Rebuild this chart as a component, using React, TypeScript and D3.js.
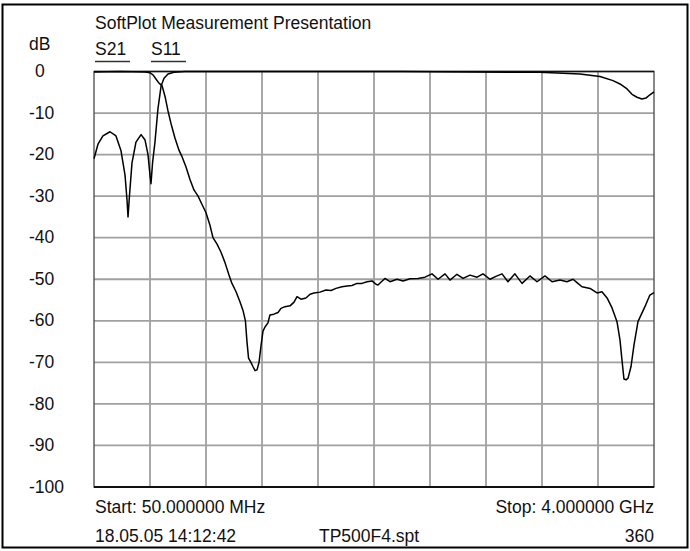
import React from 'react';
import * as d3 from 'd3';

// frequency axis (MHz) and level axis (dB)
const X_GRID = [50, 445, 840, 1235, 1630, 2025, 2420, 2815, 3210, 3605, 4000];
const Y_TICKS = [0, -10, -20, -30, -40, -50, -60, -70, -80, -90, -100];

// S11 trace (reflection)
const S11_FREQ = [50, 78, 113, 163, 205, 240, 269, 283, 290, 300, 318, 346, 382, 410, 431, 445, 452, 463, 480, 501, 523, 544, 572, 614, 692, 2208, 3196, 3478, 3619, 3711, 3760, 3810, 3845, 3880, 3915, 3943, 3971, 4000];
const S11_DB = [-21, -17.5, -15.5, -14.5, -15.5, -19, -25, -31, -35, -30, -22, -17, -15.2, -16.5, -20, -25, -27, -22, -17, -9, -3.5, -1.6, -0.6, -0.2, 0, 0, -0.2, -0.6, -1.2, -2.2, -3, -4.2, -5.5, -6.2, -6.6, -6.4, -5.6, -4.9];

// S21 trace (transmission)
const S21_FREQ = [50, 233, 410, 445, 466, 487, 508, 530, 551, 572, 593, 621, 650, 671, 699, 727, 755, 784, 812, 840, 868, 889, 917, 946, 974, 1002, 1023, 1052, 1080, 1101, 1118, 1129, 1140, 1157, 1171, 1186, 1200, 1214, 1228, 1242, 1256, 1277, 1291, 1319, 1348, 1369, 1397, 1433, 1461, 1482, 1510, 1545, 1574, 1602, 1644, 1686, 1722, 1757, 1799, 1835, 1870, 1905, 1940, 1976, 2011, 2039, 2053, 2102, 2138, 2187, 2230, 2279, 2336, 2385, 2434, 2477, 2526, 2561, 2610, 2653, 2702, 2752, 2794, 2843, 2885, 2928, 2970, 3019, 3069, 3125, 3175, 3231, 3281, 3337, 3386, 3429, 3457, 3492, 3549, 3598, 3633, 3669, 3704, 3739, 3760, 3774, 3788, 3803, 3817, 3838, 3859, 3887, 3936, 3971, 4000];
const S21_DB = [-0.1, 0, -0.1, -0.3, -0.8, -1.8, -2.8, -3.4, -6, -9.5, -12.5, -16, -19, -20.5, -23, -26, -28.5, -30, -32, -34, -37, -40, -41.5, -43.5, -46, -49, -51, -53, -55.5, -57.5, -60, -65, -69, -70, -71, -72, -71.8, -70, -66, -62.5, -61.5, -60.5, -58.6, -58.4, -58, -57, -56.6, -56.4, -55.5, -54.2, -54.8, -54.5, -53.6, -53.3, -53.1, -52.6, -52.7, -52.2, -51.8, -51.6, -51.5, -51, -51, -50.6, -50.4, -51.2, -51.4, -49.8, -50.6, -50, -50.4, -49.9, -49.8, -49.5, -48.7, -50, -48.7, -50.2, -48.8, -49.8, -49, -49.5, -48.7, -50, -49.3, -48.7, -50.6, -48.7, -51, -49.2, -50.6, -49.2, -50.6, -50.2, -50.6, -50, -50.8, -51.8, -52.2, -53.3, -53, -54.5, -56.9, -60.2, -64.6, -69.4, -74, -74.2, -73.8, -71, -65.8, -60.2, -56.6, -53.8, -53.2];

const TRACES = ['S21', 'S11'];

const W = 690;
const H = 551;
const FONT = '"Liberation Sans", Arial, sans-serif';

const App: React.FC = () => {
  const x = d3.scaleLinear().domain([50, 4000]).range([94, 654]);
  const y = d3.scaleLinear().domain([-100, 0]).range([487, 71.5]);

  const line = d3.line<[number, number]>()
    .x(d => x(d[0]))
    .y(d => y(d[1]));

  const s11 = S11_FREQ.map((f, i) => [f, S11_DB[i]] as [number, number]);
  const s21 = S21_FREQ.map((f, i) => [f, S21_DB[i]] as [number, number]);

  return (
    <div style={{ position: 'absolute', left: 0, top: 0 }}>
      <svg width={W} height={H} style={{ display: 'block', background: '#fff' }}>
        <rect x={2.5} y={4.5} width={685} height={543} fill="none" stroke="#000" strokeWidth={2} />

        {/* grid */}
        <g stroke="#a0a0a0" strokeWidth={1.8}>
          {X_GRID.slice(1, -1).map(f => (
            <line key={f} x1={x(f)} x2={x(f)} y1={y(0)} y2={y(-100)} />
          ))}
          {Y_TICKS.slice(1, -1).map(v => (
            <line key={v} x1={x(50)} x2={x(4000)} y1={y(v)} y2={y(v)} />
          ))}
        </g>
        <rect x={x(50)} y={y(0)} width={x(4000) - x(50)} height={y(-100) - y(0)}
          fill="none" stroke="#555" strokeWidth={1.4} />
        <line x1={x(50)} x2={x(4000)} y1={y(-100)} y2={y(-100)} stroke="#111" strokeWidth={1.8} />
        <line x1={x(50)} x2={x(4000)} y1={y(0)} y2={y(0)} stroke="#111" strokeWidth={1.6} />

        {/* traces */}
        <path d={line(s11) || ''} fill="none" stroke="#000" strokeWidth={1.5} strokeLinejoin="round" />
        <path d={line(s21) || ''} fill="none" stroke="#000" strokeWidth={1.5} strokeLinejoin="round" />

        <g fontFamily={FONT} fontSize={17.5} fill="#111">
          <text x={95} y={29}>SoftPlot Measurement Presentation</text>
          <text x={29} y={50}>dB</text>
          {TRACES.map((t, i) => (
            <g key={t}>
              <text x={95 + i * 56} y={55}>{t}</text>
              <line x1={95 + i * 56} x2={130 + i * 56} y1={61.5} y2={61.5} stroke="#333" strokeWidth={1.6} />
            </g>
          ))}
          {Y_TICKS.map(v => (
            <text key={v} x={v === 0 ? 35 : 29} y={y(v)} dy="0.32em">{v}</text>
          ))}
          <text x={95} y={513}>Start: 50.000000 MHz</text>
          <text x={654} y={513} textAnchor="end">Stop: 4.000000 GHz</text>
          <text x={95} y={541.5}>18.05.05 14:12:42</text>
          <text x={319} y={541.5}>TP500F4.spt</text>
          <text x={654} y={541.5} textAnchor="end">360</text>
        </g>
      </svg>
    </div>
  );
};

export default App;
